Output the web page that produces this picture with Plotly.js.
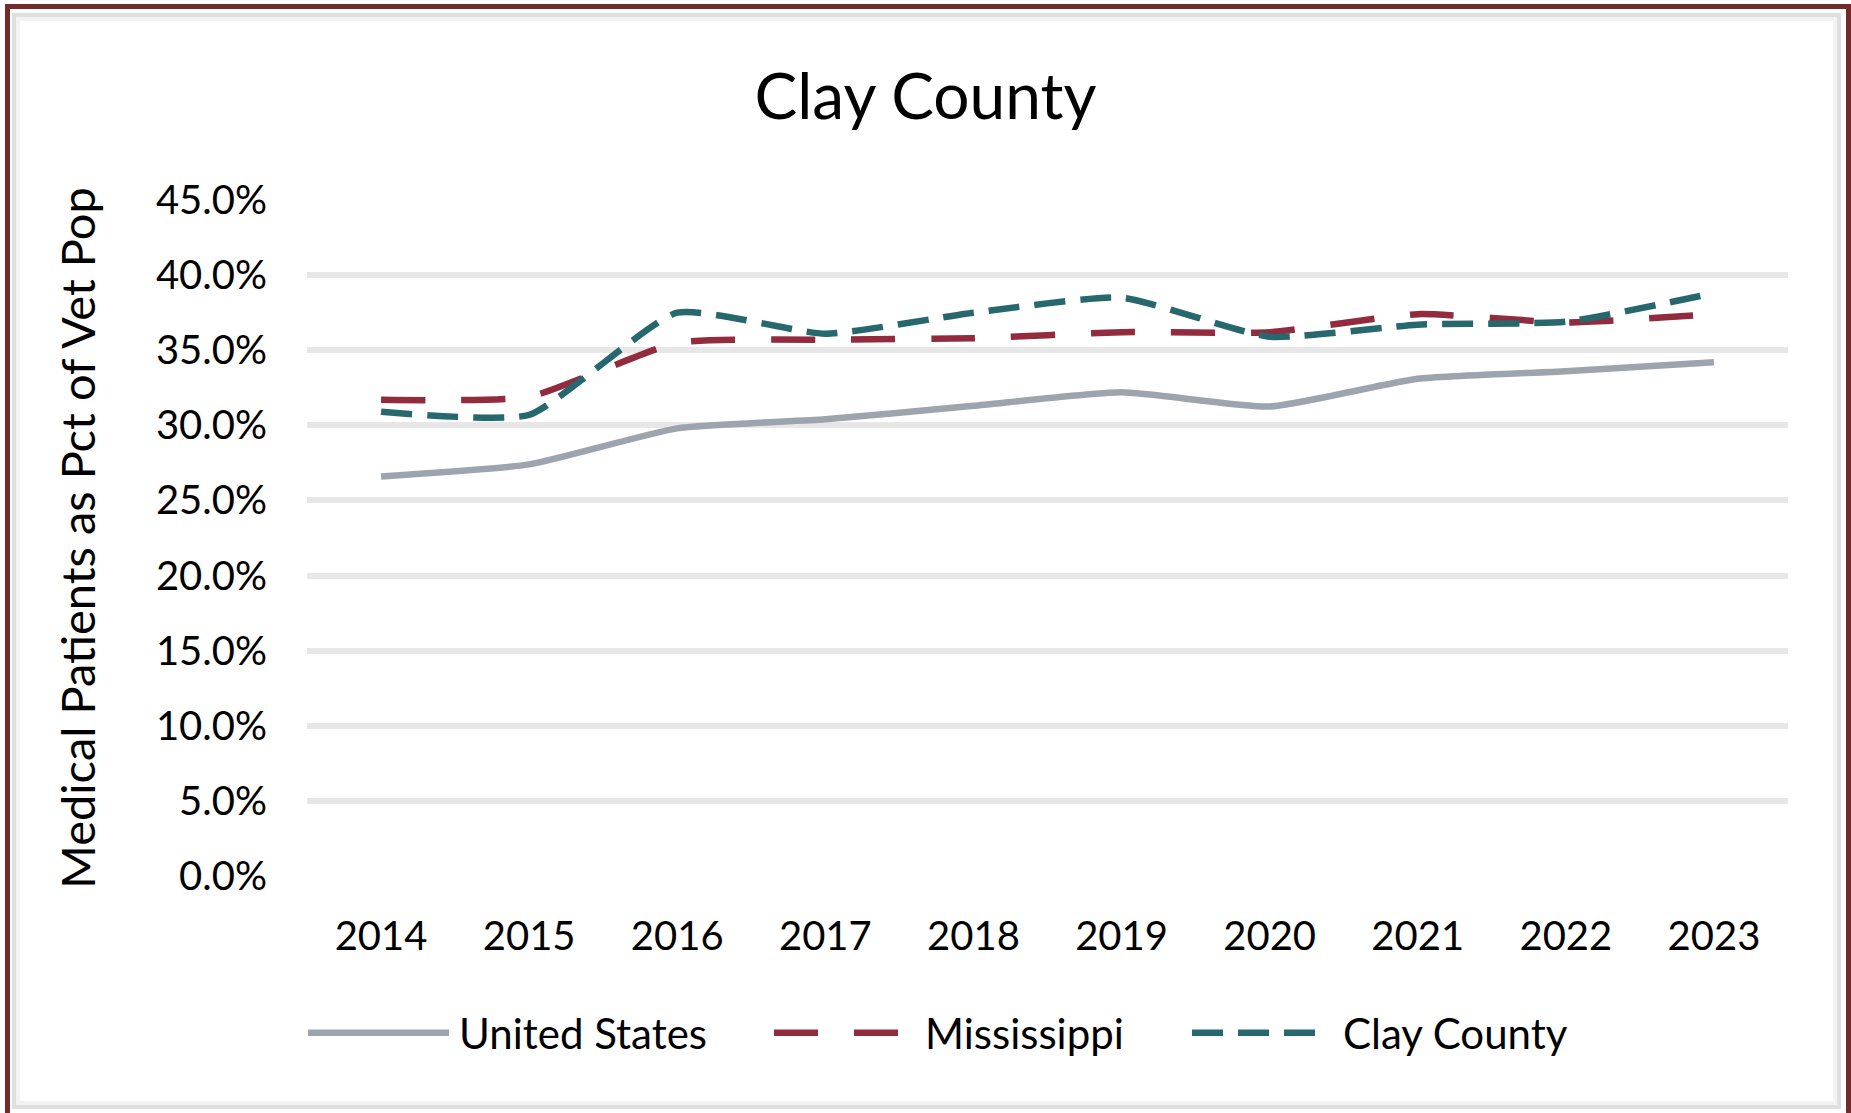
<!DOCTYPE html>
<html><head><meta charset="utf-8">
<script src="https://cdn.plot.ly/plotly-3.0.1.min.js"></script>
<style>
html,body{margin:0;padding:0;background:#fff;overflow:hidden;width:1851px;height:1113px;}
#frame{position:absolute;left:5px;top:4px;width:1846px;height:1120px;box-sizing:border-box;border:5px solid #722b28;}
#inner{position:absolute;left:12px;top:13px;width:1829px;height:1096px;box-sizing:border-box;border:4px solid #dfdfdf;box-shadow:inset 0 0 0 4px #f3f3f3;}
#chart{position:absolute;left:0;top:0;width:1851px;height:1113px;}
</style></head>
<body>
<div id="frame"></div><div id="inner"></div>
<div id="chart"></div>
<script>
var years = ['2014','2015','2016','2017','2018','2019','2020','2021','2022','2023'];
var usVals = [26.6, 27.4, 29.8, 30.4, 31.3, 32.2, 31.25, 33.1, 33.6, 34.2];
var msVals = [31.7, 31.9, 35.5, 35.7, 35.8, 36.2, 36.2, 37.4, 36.85, 37.4];
var clayVals = [30.9, 30.7, 37.5, 36.1, 37.5, 38.5, 35.9, 36.7, 36.9, 38.8];
var seriesNames = ['United States', 'Mississippi', 'Clay County'];

var FONT = 'Lato, "Open Sans", sans-serif';
var ITEMW = 146;
var SAMPLE_LEN = [141, 124, 124];

var traces = [
  {x: years, y: usVals, name: seriesNames[0], type: 'scatter', mode: 'lines', legendwidth: 305,
   line: {color: '#9ca4ae', width: 6.5, shape: 'spline', smoothing: 0.5}},
  {x: years, y: msVals, name: seriesNames[1], type: 'scatter', mode: 'lines', legendwidth: 257,
   line: {color: '#912b3d', width: 6.5, dash: '44px,36px', shape: 'spline', smoothing: 0.5}},
  {x: years, y: clayVals, name: seriesNames[2], type: 'scatter', mode: 'lines', legendwidth: 240,
   line: {color: '#27686e', width: 6.5, dash: '31px,15px', shape: 'spline', smoothing: 0.5}}
];

var layout = {
  width: 1851, height: 1113,
  paper_bgcolor: 'rgba(0,0,0,0)', plot_bgcolor: 'rgba(0,0,0,0)',
  margin: {l: 307, r: 63, t: 200, b: 237, pad: 0},
  font: {family: FONT, color: '#000'},
  title: {text: 'Clay County', font: {family: FONT, size: 64, color: '#000'},
          xref: 'container', x: 0.5, xanchor: 'center',
          yref: 'container', y: 1 - 97/1113, yanchor: 'middle'},
  xaxis: {type: 'category', range: [-0.5, 9.5], showgrid: false, zeroline: false,
          showline: false, ticks: '', tickfont: {family: FONT, size: 40, color: '#000'},
          ticklabelstandoff: 33, fixedrange: true},
  yaxis: {range: [0, 45], tickmode: 'linear', tick0: 0, dtick: 5, tickformat: '.1f', ticksuffix: '%',
          showgrid: true, gridcolor: '#e7e7e7', gridwidth: 6, zeroline: false,
          showline: false, ticks: '', ticklabelstandoff: 39,
          tickfont: {family: FONT, size: 40, color: '#000'},
          title: {text: 'Medical Patients as Pct of Vet Pop', standoff: 45,
                  font: {family: FONT, size: 47, color: '#000'}},
          fixedrange: true},
  showlegend: true,
  legend: {orientation: 'h', xref: 'container', yref: 'container',
           x: 303/1851, xanchor: 'left', y: (1113-1033)/1113, yanchor: 'middle',
           font: {family: FONT, size: 42, color: '#000'},
           itemwidth: ITEMW, bgcolor: 'rgba(0,0,0,0)', borderwidth: 0}
};

function stretchLegend() {
  var items = document.querySelectorAll('#chart .legend .traces');
  items.forEach(function(item, i) {
    var p = item.querySelector('.legendlines path');
    if (p) p.setAttribute('d', 'M5,0h' + (SAMPLE_LEN[i] || (ITEMW - 5)));
  });
}

Plotly.newPlot('chart', traces, layout, {displayModeBar: false, staticPlot: true}).then(function(gd) {
  stretchLegend();
  gd.on('plotly_afterplot', stretchLegend);
});
</script>
</body></html>
